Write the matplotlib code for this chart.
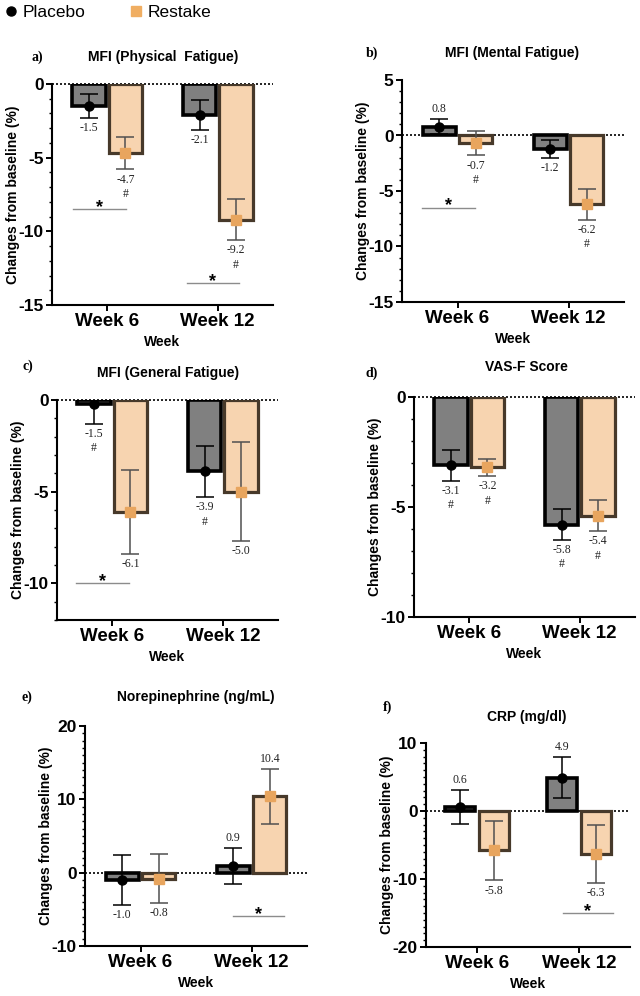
import matplotlib
matplotlib.use("Agg")
import matplotlib.pyplot as plt
from matplotlib.lines import Line2D
from matplotlib.ticker import MultipleLocator

plt.rcParams['font.family'] = ['Liberation Sans', 'DejaVu Sans']
plt.rcParams['axes.unicode_minus'] = False

weeks = ["Week 6", "Week 12"]
titles = ["MFI (Physical  Fatigue)", "MFI (Mental Fatigue)", "MFI (General Fatigue)",
          "VAS-F Score", "Norepinephrine (ng/mL)", "CRP (mg/dl)"]
letters = ["a)", "b)", "c)", "d)", "e)", "f)"]

placebo_mean = [[-1.5, -2.1], [0.8, -1.2], [-0.2, -3.9], [-3.1, -5.8], [-1.0, 0.9], [0.6, 4.9]]
placebo_err = [[0.8, 1.0], [0.7, 0.8], [1.1, 1.4], [0.7, 0.7], [3.4, 2.5], [2.5, 3.0]]
restake_mean = [[-4.7, -9.2], [-0.7, -6.2], [-6.1, -5.0], [-3.2, -5.4], [-0.8, 10.4], [-5.8, -6.3]]
restake_err = [[1.1, 1.4], [1.1, 1.4], [2.3, 2.7], [0.4, 0.7], [3.3, 3.7], [4.4, 4.3]]

placebo_text = [["-1.5", "-2.1"], ["0.8", "-1.2"], ["-1.5\n#", "-3.9\n#"],
                ["-3.1\n#", "-5.8\n#"], ["-1.0", "0.9"], ["0.6", "4.9"]]
restake_text = [["-4.7\n#", "-9.2\n#"], ["-0.7\n#", "-6.2\n#"], ["-6.1", "-5.0"],
                ["-3.2\n#", "-5.4\n#"], ["-0.8", "10.4"], ["-5.8", "-6.3"]]

y_limits = [(-15, 0), (-15, 5), (-12, 0), (-10, 0), (-10, 20), (-20, 10)]
y_steps = [5, 5, 5, 5, 10, 10]

# significance bars: (week index, y level, start offset, end offset)
sig_bars = [[(0, -8.5, -0.31, 0.17), (1, -13.5, -0.28, 0.19)],
            [(0, -6.5, -0.32, 0.16)],
            [(0, -10.0, -0.33, 0.15)],
            [],
            [(1, -5.9, -0.17, 0.29)],
            [(1, -15.0, -0.16, 0.33)]]

W, H = 640, 996
# panel boxes in pixels: left, top, right, bottom
boxes = [(52, 84, 273, 305), (402, 80, 624, 302), (57, 400, 278, 620),
         (414, 397, 635, 617), (85, 726, 307, 946), (426, 743, 630, 947)]
title_xy = [(163, 57), (512, 53), (168, 373), (526, 367), (196, 697), (527, 717)]
letter_xy = [(37, 57), (372, 53), (28, 366), (372, 373), (27, 697), (388, 707)]

gray_fill = '#808080'
peach_fill = '#f7d4b0'
peach_edge = '#47392a'
orange = '#e8a55e'
err_gray = '#505050'

fig = plt.figure(figsize=(W / 100, H / 100), dpi=100)

off = 0.165
bw = 0.3
x = [0, 1]

for i in range(6):
    l, t, r, b = boxes[i]
    ax = fig.add_axes([l / W, 1 - b / H, (r - l) / W, (b - t) / H])
    pw, ph = r - l, b - t

    xp = [v - off for v in x]
    xr = [v + off for v in x]
    ax.bar(xp, placebo_mean[i], width=bw, color=gray_fill, edgecolor='black', linewidth=2.6, zorder=2)
    ax.bar(xr, restake_mean[i], width=bw, color=peach_fill, edgecolor=peach_edge, linewidth=2.3, zorder=2)
    ax.errorbar(xp, placebo_mean[i], yerr=placebo_err[i], fmt='o', color='black', ms=6.5,
                ecolor='black', elinewidth=1.1, capsize=6.5, capthick=1.1, zorder=4)
    ax.errorbar(xr, restake_mean[i], yerr=restake_err[i], fmt='s', color=orange, ms=6.5,
                ecolor=err_gray, elinewidth=1.1, capsize=6.5, capthick=1.1, zorder=4)

    ax.axhline(0, color='black', lw=1.2, ls=(0, (1.2, 1.2)), zorder=1.5, clip_on=False)

    for xs, means, errs, texts in [(xp, placebo_mean[i], placebo_err[i], placebo_text[i]),
                                   (xr, restake_mean[i], restake_err[i], restake_text[i])]:
        for xx, m, e, s in zip(xs, means, errs, texts):
            if m >= 0:
                ax.annotate(s, (xx, m + e), xytext=(0, 3), textcoords='offset points',
                            ha='center', va='bottom', fontsize=8.5, family='Liberation Serif',
                            color='#222222', linespacing=1.25)
            else:
                ax.annotate(s, (xx, m - e), xytext=(0, -3), textcoords='offset points',
                            ha='center', va='top', fontsize=8.5, family='Liberation Serif',
                            color='#222222', linespacing=1.25)

    for wk, yy, x0, x1 in sig_bars[i]:
        ax.plot([wk + x0, wk + x1], [yy, yy], color='#8c8c8c', lw=1.0, zorder=3)
        ax.annotate('*', (wk + (x0 + x1) / 2, yy), xytext=(0, -2), textcoords='offset points',
                    ha='center', va='baseline', fontsize=13, fontweight='bold')

    ax.set_xlim(-0.5, 1.5)
    ax.set_ylim(*y_limits[i])
    ax.yaxis.set_major_locator(MultipleLocator(y_steps[i]))
    ax.yaxis.set_minor_locator(MultipleLocator(1))
    ax.set_xticks(x)
    ax.set_xticklabels(weeks)
    for s in ['top', 'right']:
        ax.spines[s].set_visible(False)
    for s in ['left', 'bottom']:
        ax.spines[s].set_linewidth(1.5)
    ax.tick_params(axis='both', which='major', length=4, width=1.4, labelsize=13.5, pad=2)
    ax.tick_params(axis='y', which='minor', length=2.5, width=1.0)
    ax.tick_params(axis='y', labelsize=12.5)
    for lab in ax.get_xticklabels() + ax.get_yticklabels():
        lab.set_fontweight('bold')

    ax.set_ylabel("Changes from baseline (%)", fontsize=10, fontweight='bold')
    ax.yaxis.set_label_coords(-32 / pw, 0.5)
    ax.set_xlabel("Week", fontsize=10, fontweight='bold')
    ax.xaxis.set_label_coords(0.5, -30 / ph)

    tx, ty = title_xy[i]
    fig.text(tx / W, 1 - ty / H, titles[i], ha='center', va='center', fontsize=10, fontweight='bold')
    lx, ly = letter_xy[i]
    fig.text(lx / W, 1 - ly / H, letters[i], ha='center', va='center', fontsize=10,
             fontweight='bold', family='Liberation Serif')

handles = [Line2D([], [], marker='o', color='black', ls='none', ms=6.5),
           Line2D([], [], marker='s', color='#f0ae62', ls='none', ms=7.5)]
fig.legend(handles, ["Placebo", "Restake"], loc='upper left', bbox_to_anchor=(-0.006, 1.004),
           ncol=2, frameon=False, fontsize=12.5, handlelength=0.7, handletextpad=0.3,
           columnspacing=2.6, borderaxespad=0.1)

fig.savefig("out.png", dpi=100)
